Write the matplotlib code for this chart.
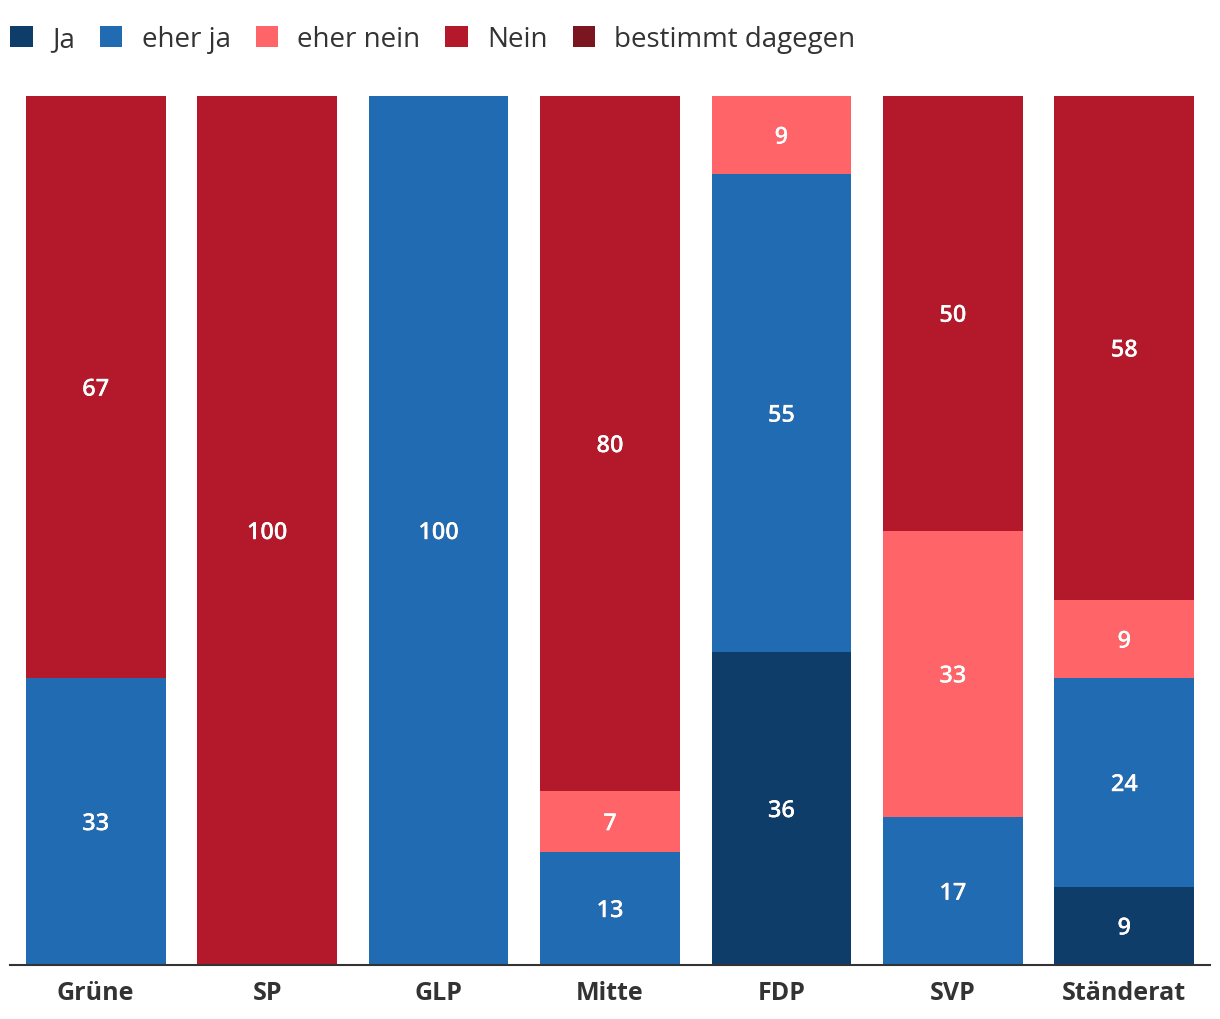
import numpy as np
import matplotlib
matplotlib.use("Agg")
import matplotlib.pyplot as plt
from matplotlib.patches import Patch
import matplotlib.patheffects as pe

plt.rcParams["font.family"] = ["Open Sans", "DejaVu Sans"]

parties = ["Grüne", "SP", "GLP", "Mitte", "FDP", "SVP", "Ständerat"]
labels = ["Ja", "eher ja", "eher nein", "Nein", "bestimmt dagegen"]
colors = ["#0f3d6a", "#216bb2", "#ff6468", "#b3192b", "#7b1520"]

ja = [0, 0, 0, 0, 36, 0, 9]
eher_ja = [33, 0, 100, 13, 55, 17, 24]
eher_nein = [0, 0, 0, 7, 9, 33, 9]
nein = [67, 100, 0, 80, 0, 50, 58]
dagegen = [0, 0, 0, 0, 0, 0, 0]

series = [ja, eher_ja, eher_nein, nein, dagegen]

fig = plt.figure(figsize=(12.2, 10.2), dpi=100)
ax = fig.add_axes([10 / 1220, 54 / 1020, 1200 / 1220, 869 / 1020])

x = np.arange(len(parties))
bottom = np.zeros(len(parties))
shadow = [pe.withSimplePatchShadow(offset=(0, 0), shadow_rgbFace="#5a0a10", alpha=0.5),
          pe.Normal()]
for vals, col in zip(series, colors):
    vals = np.array(vals, dtype=float)
    ax.bar(x, vals, bottom=bottom, width=0.815, color=col, linewidth=0)
    for xi, b, v in zip(x, bottom, vals):
        if v > 0:
            ax.text(xi, b + v / 2 - 0.3, f"{int(v)}", ha="center", va="center",
                    color="white", fontsize=17, fontweight="semibold",
                    path_effects=shadow)
    bottom += vals

ax.set_xlim(-0.5, len(parties) - 0.5)
ax.set_ylim(0, 100)
ax.set_xticks(x)
ax.set_xticklabels(parties, fontsize=18, fontweight="bold", color="#333333")
ax.tick_params(axis="x", length=0, pad=11)
ax.set_yticks([])
for s in ["top", "right", "left"]:
    ax.spines[s].set_visible(False)
ax.spines["bottom"].set_color("#333333")
ax.spines["bottom"].set_linewidth(1.5)

handles = [Patch(facecolor=c, edgecolor="none") for c in colors]
fig.legend(handles, labels, loc="upper left", bbox_to_anchor=(-0.012, 0.999), ncol=5,
           frameon=False, fontsize=20, handlelength=0.8, handleheight=0.8,
           handletextpad=0.7, columnspacing=0.9, labelcolor="#333333",
           borderaxespad=0.5)

fig.savefig("out.png", dpi=100)
